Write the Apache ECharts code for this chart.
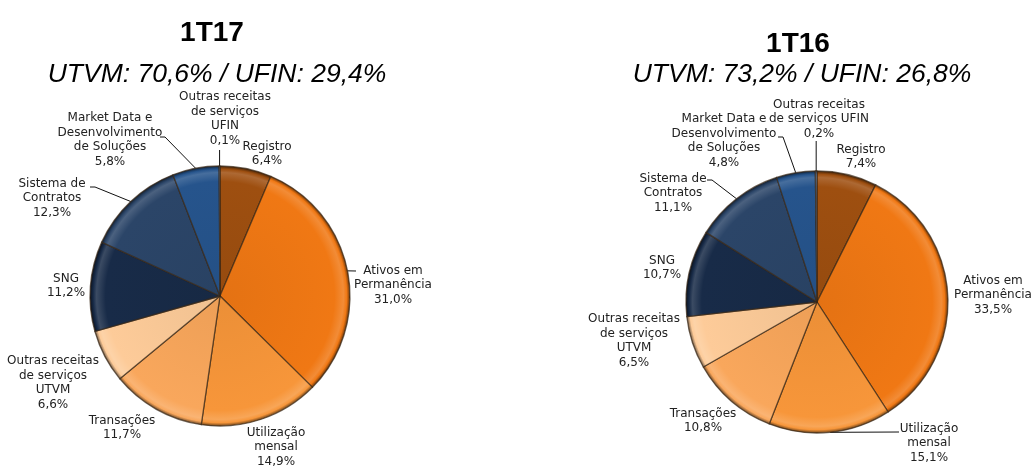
<!DOCTYPE html>
<html><head><meta charset="utf-8">
<script src="https://cdn.jsdelivr.net/npm/echarts@6/dist/echarts.min.js"></script>
<style>html,body{margin:0;padding:0;background:#fff}#c{width:1033px;height:466px}</style>
</head><body><div id="c"></div>
<script>
// ---- data ----
const categories = ['Registro','Ativos em Permanência','Utilização mensal','Transações','Outras receitas de serviços UTVM','SNG','Sistema de Contratos','Market Data e Desenvolvimento de Soluções','Outras receitas de serviços UFIN'];
const values1T17 = [6.4, 31.0, 14.9, 11.7, 6.6, 11.2, 12.3, 5.8, 0.1];
const values1T16 = [7.4, 33.5, 15.1, 10.8, 6.5, 10.7, 11.1, 4.8, 0.2];
const periods = ['1T17', '1T16'];
const subtitles = ['UTVM: 70,6% / UFIN: 29,4%', 'UTVM: 73,2% / UFIN: 26,8%'];
const labelNames1T17 = ['Registro','Ativos em\nPermanência','Utilização\nmensal','Transações','Outras receitas\nde serviços\nUTVM','SNG','Sistema de\nContratos','Market Data e\nDesenvolvimento\nde Soluções','Outras receitas\nde serviços\nUFIN'];
const labelNames1T16 = ['Registro','Ativos em\nPermanência','Utilização\nmensal','Transações','Outras receitas\nde serviços\nUTVM','SNG','Sistema de\nContratos','Market Data e\nDesenvolvimento\nde Soluções','Outras receitas\nde serviços UFIN'];

// ---- styles / layout ----
const colors = ['#9E4F10','#F07814','#F7963A','#F9A75C','#FDCB99','#182B48','#2B4568','#26548C','#6A8EC0'];
const layout = [
  { center: [220, 296], r: 130, title: [207, 14], sub: [212, 56],
    labels: [[267,154],[393,285],[276,447],[122,428],[53,383],[66,286],[52,198],[110,140],[225,119]],
    lines: { 1: [[356,271]], 6: [[95,187],[90,187]], 7: [[165,137],[160,137]], 8: [[null,150]] } },
  { center: [817, 302], r: 131, title: [793, 25], sub: [797, 56],
    labels: [[861,157],[993,295],[929,443],[703,421],[634,341],[662,268],[673,193],[724,141],[819,119]],
    lines: { 2: [[899,432]], 6: [[712,180],[707,180]], 7: [[783,137],[778,137]], 8: [[null,141]] } }
];

function mix(hex, target, t) {
  const n = parseInt(hex.slice(1), 16);
  const r = (n >> 16) & 255, g = (n >> 8) & 255, b = n & 255;
  const f = c => Math.round(c + (target - c) * t);
  return 'rgb(' + f(r) + ',' + f(g) + ',' + f(b) + ')';
}
function bevel(color, L) {
  return new echarts.graphic.RadialGradient(L.center[0], L.center[1], L.r, [
    { offset: 0, color: mix(color, 0, 0.05) },
    { offset: 0.88, color: color },
    { offset: 0.95, color: mix(color, 255, 0.15) },
    { offset: 0.975, color: color },
    { offset: 1, color: mix(color, 0, 0.55) }
  ], true);
}
function pct(v) { return v.toFixed(1).replace('.', ',') + '%'; }

const allValues = [values1T17, values1T16];
const allLabelNames = [labelNames1T17, labelNames1T16];

const chart = echarts.init(document.getElementById('c'));
const titles = [];
const series = [];
layout.forEach((L, si) => {
  titles.push({ text: periods[si], left: L.title[0], top: L.title[1], textAlign: 'center',
    textStyle: { fontFamily: 'Liberation Sans', fontWeight: 'bold', fontSize: 28, lineHeight: 28, color: '#000' } });
  titles.push({ text: subtitles[si], left: L.sub[0], top: L.sub[1], textAlign: 'center',
    textStyle: { fontFamily: 'Liberation Sans', fontStyle: 'italic', fontWeight: 'normal', fontSize: 26.5, lineHeight: 27, color: '#000' } });
  series.push({
    type: 'pie',
    center: L.center,
    radius: L.r,
    startAngle: 90,
    clockwise: true,
    avoidLabelOverlap: false,
    animation: false,
    itemStyle: { borderColor: 'rgba(55,38,22,0.7)', borderWidth: 1.3 },
    label: {
      show: true, position: 'outside',
      fontFamily: 'DejaVu Sans', fontSize: 12, lineHeight: 14.5, color: '#222', align: 'center',
      formatter: p => allLabelNames[si][p.dataIndex] + '\n' + pct(p.value)
    },
    labelLine: { show: true, lineStyle: { color: '#111', width: 1 } },
    labelLayout: function (p) {
      const pos = L.labels[p.dataIndex];
      const res = { x: pos[0], y: pos[1], align: 'center', verticalAlign: 'middle' };
      const ln = L.lines[p.dataIndex];
      if (ln && p.labelLinePoints) {
        const a = p.labelLinePoints[0];
        res.labelLinePoints = [[a[0], a[1]]].concat(ln.map(q => [q[0] == null ? a[0] : q[0], q[1]]));
      }
      return res;
    },
    data: categories.map((name, i) => ({
      name: name,
      value: allValues[si][i],
      itemStyle: { color: bevel(colors[i], L) },
      labelLine: { show: !!L.lines[i] }
    }))
  });
});

chart.setOption({ backgroundColor: '#fff', title: titles, series: series });
</script>
</body></html>
